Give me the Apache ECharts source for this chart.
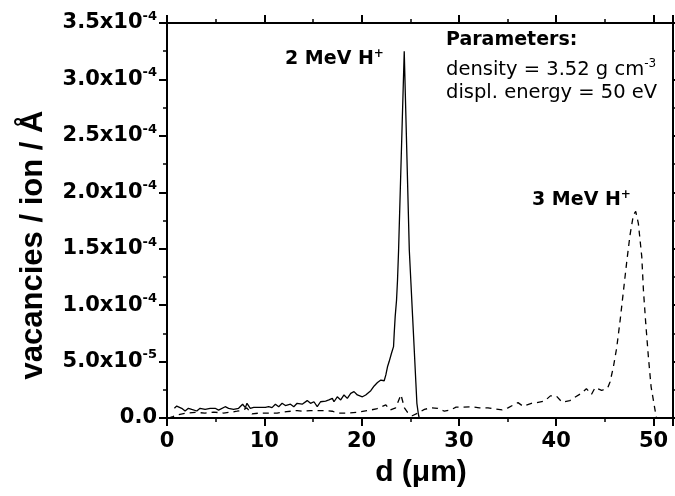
<!DOCTYPE html>
<html><head><meta charset="utf-8">
<script src="https://cdn.jsdelivr.net/npm/echarts@6/dist/echarts.min.js"></script>
<style>html,body{margin:0;padding:0;background:#fff}#c{width:675px;height:496px}</style>
</head><body><div id="c"></div>
<script>
// depth d in µm; vacancies in units of 1e-4 vacancies / ion / Å
const xTicks = [0, 10, 20, 30, 40, 50];
const yTickMantissa = ['0.0', '5.0', '1.0', '1.5', '2.0', '2.5', '3.0', '3.5'];
const yTickExponent = ['', '-5', '-4', '-4', '-4', '-4', '-4', '-4'];

const d2MeV = [0.76,1.0,1.51,1.86,2.20,2.54,3.06,3.40,3.92,4.44,4.95,5.30,5.98,6.33,6.84,7.36,7.77,8.05,8.22,8.56,8.91,9.42,10.11,10.45,10.79,11.14,11.48,11.83,12.17,12.69,13.03,13.37,13.89,14.41,14.75,15.10,15.44,15.78,16.30,16.64,16.99,17.16,17.50,17.85,18.19,18.53,18.88,19.22,19.56,20.08,20.42,20.94,21.29,21.63,21.98,22.32,22.49,22.66,22.83,23.07,23.28,23.35,23.45,23.59,23.69,23.80,24.38,24.90,25.07,25.24,25.41,25.58,25.68,25.82,25.92];
const v2MeV = [0.086,0.106,0.086,0.062,0.086,0.076,0.062,0.086,0.076,0.086,0.086,0.070,0.100,0.086,0.076,0.086,0.122,0.092,0.130,0.086,0.094,0.094,0.094,0.100,0.092,0.122,0.100,0.130,0.110,0.122,0.100,0.130,0.122,0.154,0.130,0.144,0.100,0.144,0.150,0.160,0.174,0.144,0.188,0.160,0.204,0.174,0.218,0.234,0.204,0.188,0.204,0.242,0.284,0.314,0.336,0.330,0.382,0.454,0.500,0.574,0.632,0.750,0.898,1.046,1.222,1.488,3.25,1.488,1.194,0.898,0.602,0.306,0.130,0.042,0.0];

const d3MeV = [0.14,0.6,1.17,2.03,2.89,3.9,4.8,5.81,6.6,7.19,7.8,8.2,8.73,9.5,10.28,11.31,12.3,13.38,14.0,14.75,15.5,16.13,16.99,17.5,18.53,19.56,20.6,21.5,21.97,22.49,22.9,23.5,24.04,24.4,24.72,25.2,25.76,26.45,27.1,27.82,28.51,29.1,29.71,30.4,31.26,32.1,32.98,33.7,34.45,35.04,35.6,36.07,36.59,37.45,38.0,38.8,39.4,40.0,40.6,41.4,41.91,42.6,43.1,43.63,44.0,44.67,45.3,45.53,45.87,46.21,46.56,46.90,47.24,47.58,47.93,48.17,48.44,48.79,48.96,49.20,49.47,49.75,50.16,50.3];
const v3MeV = [0.0,0.012,0.030,0.044,0.050,0.044,0.052,0.044,0.052,0.060,0.070,0.090,0.036,0.044,0.044,0.044,0.056,0.066,0.060,0.066,0.066,0.066,0.060,0.044,0.044,0.050,0.066,0.080,0.098,0.116,0.070,0.090,0.206,0.090,0.050,0.020,0.042,0.076,0.090,0.086,0.060,0.070,0.096,0.096,0.100,0.090,0.090,0.080,0.072,0.090,0.116,0.136,0.104,0.130,0.136,0.150,0.196,0.196,0.140,0.154,0.184,0.220,0.260,0.210,0.270,0.244,0.270,0.320,0.450,0.620,0.860,1.120,1.380,1.620,1.800,1.830,1.724,1.430,1.134,0.838,0.542,0.276,0.068,0.0];

const zip = (a, b) => a.map((x, i) => [x, b[i]]);
const FONT = 'DejaVu Sans';
const ARIAL = 'Liberation Sans';

const chart = echarts.init(document.getElementById('c'), null, {renderer: 'canvas'});
const axisLineStyle = {color: '#000', width: 2};
const tickCommon = {show: true, inside: false, length: 8, lineStyle: {color: '#000', width: 2}};
const minorCommon = {show: true, splitNumber: 2, length: 4, lineStyle: {color: '#000', width: 1.5}};

chart.setOption({
  animation: false,
  backgroundColor: '#fff',
  grid: {left: 167, right: 2, top: 23, bottom: 78},
  xAxis: [{
    type: 'value', min: 0, max: 52, interval: 10, position: 'bottom',
    axisLine: {show: true, onZero: false, lineStyle: axisLineStyle},
    axisTick: tickCommon, minorTick: minorCommon, splitLine: {show: false},
    axisLabel: {margin: 13, fontFamily: FONT, fontWeight: 'bold', fontSize: 21, color: '#000',
      showMaxLabel: false,
      formatter: v => xTicks.includes(v) ? String(v) : ''}
  }, {
    type: 'value', min: 0, max: 52, interval: 10, position: 'top',
    axisLine: {show: true, onZero: false, lineStyle: axisLineStyle},
    axisTick: tickCommon, minorTick: minorCommon, splitLine: {show: false},
    axisLabel: {show: false}
  }],
  yAxis: [{
    type: 'value', min: 0, max: 3.5, interval: 0.5, position: 'left',
    axisLine: {show: true, onZero: false, lineStyle: axisLineStyle},
    axisTick: tickCommon, minorTick: minorCommon, splitLine: {show: false},
    axisLabel: {
      margin: 10, color: '#000',
      formatter: v => {
        const i = Math.round(v / 0.5);
        const m = yTickMantissa[i], e = yTickExponent[i];
        return e ? '{m|' + m + 'x10}{e|' + e + '}' : '{m|' + m + '}';
      },
      rich: {
        m: {fontFamily: FONT, fontWeight: 'bold', fontSize: 21, color: '#000', lineHeight: 26},
        e: {fontFamily: FONT, fontWeight: 'bold', fontSize: 13, color: '#000', lineHeight: 14, verticalAlign: 'top'}
      }
    }
  }, {
    type: 'value', min: 0, max: 3.5, interval: 0.5, position: 'right',
    axisLine: {show: true, onZero: false, lineStyle: axisLineStyle},
    axisTick: tickCommon, minorTick: minorCommon, splitLine: {show: false},
    axisLabel: {show: false}
  }],
  series: [{
    name: '2 MeV H+', type: 'line', xAxisIndex: 0, yAxisIndex: 0,
    data: zip(d2MeV, v2MeV), showSymbol: false, symbol: 'none',
    lineStyle: {color: '#000', width: 1.3, type: 'solid'}
  }, {
    name: '3 MeV H+', type: 'line', xAxisIndex: 0, yAxisIndex: 0,
    data: zip(d3MeV, v3MeV), showSymbol: false, symbol: 'none',
    lineStyle: {color: '#000', width: 1.3, type: [6, 5]}
  }],
  graphic: [
    {type: 'text', x: 33, y: 245, rotation: Math.PI / 2,
      style: {text: 'vacancies / ion / Å', fontFamily: ARIAL, fontWeight: 'bold', fontSize: 31,
        fill: '#000', align: 'center', verticalAlign: 'middle'}},
    {type: 'text', x: 421, y: 473,
      style: {text: 'd (μm)', fontFamily: ARIAL, fontWeight: 'bold', fontSize: 30,
        fill: '#000', align: 'center', verticalAlign: 'middle'}},
    {type: 'text', x: 285, y: 48,
      style: {text: '{b|2 MeV H}{s|+}', verticalAlign: 'top', align: 'left',
        rich: {b: {fontFamily: FONT, fontWeight: 'bold', fontSize: 19, fill: '#000', lineHeight: 22},
               s: {fontFamily: FONT, fontWeight: 'bold', fontSize: 12, fill: '#000', lineHeight: 12, verticalAlign: 'top'}}}},
    {type: 'text', x: 532, y: 189,
      style: {text: '{b|3 MeV H}{s|+}', verticalAlign: 'top', align: 'left',
        rich: {b: {fontFamily: FONT, fontWeight: 'bold', fontSize: 19, fill: '#000', lineHeight: 22},
               s: {fontFamily: FONT, fontWeight: 'bold', fontSize: 12, fill: '#000', lineHeight: 12, verticalAlign: 'top'}}}},
    {type: 'text', x: 446, y: 31,
      style: {text: 'Parameters:', fontFamily: FONT, fontWeight: 'bold', fontSize: 19, fill: '#000', verticalAlign: 'top'}},
    {type: 'text', x: 446, y: 58,
      style: {text: '{n|density = 3.52 g cm}{s|-3}', verticalAlign: 'top', align: 'left',
        rich: {n: {fontFamily: FONT, fontSize: 19.5, fill: '#000', lineHeight: 24},
               s: {fontFamily: FONT, fontSize: 12, fill: '#000', lineHeight: 12, verticalAlign: 'top'}}}},
    {type: 'text', x: 446, y: 83,
      style: {text: 'displ. energy = 50 eV', fontFamily: FONT, fontSize: 19.5, fill: '#000', verticalAlign: 'top'}}
  ]
});
</script>
</body></html>
